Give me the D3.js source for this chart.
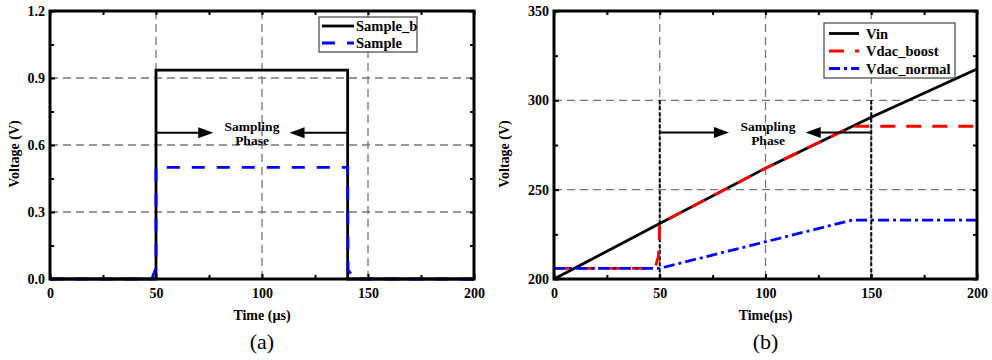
<!DOCTYPE html>
<html>
<head>
<meta charset="utf-8">
<script src="https://cdn.jsdelivr.net/npm/d3@7"></script>
<style>
  body { margin: 0; background: #fff; }
  svg text { font-family: "Liberation Serif", "Times New Roman", serif; }
</style>
</head>
<body>
<svg id="chart" width="992" height="360"></svg>
<script>
// ---- data ----
const timeTicks = [0, 50, 100, 150, 200];
const timeMinor = [25, 75, 125, 175];
const leftVoltTicks = [0, 0.3, 0.6, 0.9, 1.2];
const leftVoltMinor = [0.15, 0.45, 0.75, 1.05];
const rightVoltTicks = [200, 250, 300, 350];
const rightVoltMinor = [225, 275, 325];

// panel (a)
const sampleBTime = [0, 50, 50, 140.4, 140.4, 200];
const sampleBVolt = [0, 0, 0.935, 0.935, 0, 0];
const sampleTime = [0, 48, 50, 50, 140.4, 140.6, 144, 200];
const sampleVolt = [0, 0, 0.05, 0.5, 0.5, 0.04, 0, 0];

// panel (b)
const vinTime = [0, 50, 100, 150, 200];
const vinVolt = [200, 231, 262, 290.5, 317.5];
const boostTime = [0, 47.8, 49.4, 50, 100, 141.2, 200];
const boostVolt = [206, 206, 213, 231, 262, 285.5, 285.5];
const normalTime = [0, 50, 141, 200];
const normalVolt = [206, 206, 233, 233];

const svg = d3.select('#chart');
const zip = (xs, ys) => xs.map((x, i) => [x, ys[i]]);

function panel(cfg) {
  const x = d3.scaleLinear().domain([0, 200]).range([cfg.left, cfg.right]);
  const y = d3.scaleLinear().domain(cfg.yDomain).range([279, 11]);
  const g = svg.append('g');

  // grid
  g.selectAll('.gx').data(cfg.gridX).join('line')
    .attr('x1', d => x(d)).attr('x2', d => x(d))
    .attr('y1', y.range()[0]).attr('y2', y.range()[1])
    .attr('stroke', '#777').attr('stroke-width', 1.3).attr('stroke-dasharray', '8,5');
  g.selectAll('.gy').data(cfg.gridY).join('line')
    .attr('y1', d => y(d)).attr('y2', d => y(d))
    .attr('x1', cfg.left).attr('x2', cfg.right)
    .attr('stroke', '#777').attr('stroke-width', 1.3).attr('stroke-dasharray', '8,5');

  // axes with inward ticks
  const xb = d3.axisBottom(x).tickValues(timeTicks).tickSize(-5).tickPadding(9).tickFormat(d3.format('d'));
  const yl = d3.axisLeft(y).tickValues(cfg.yTicks).tickSize(-5).tickPadding(5).tickFormat(cfg.yFormat);
  const xm = d3.axisBottom(x).tickValues(timeMinor).tickSize(-4).tickFormat('');
  const ym = d3.axisLeft(y).tickValues(cfg.yMinor).tickSize(-4).tickFormat('');
  const axes = [
    [xb, 279], [xm, 279],
    [d3.axisTop(x).tickValues(timeTicks.concat(timeMinor)).tickSize(-4).tickFormat(''), 11]
  ];
  axes.forEach(([a, ty]) => g.append('g').attr('transform', `translate(0,${ty})`).call(a));
  g.append('g').attr('transform', `translate(${cfg.left},0)`).call(yl);
  g.append('g').attr('transform', `translate(${cfg.left},0)`).call(ym);
  g.append('g').attr('transform', `translate(${cfg.right},0)`)
    .call(d3.axisRight(y).tickValues(cfg.yTicks.concat(cfg.yMinor)).tickSize(-4).tickFormat(''));
  g.selectAll('.domain').remove();
  g.selectAll('.tick line').attr('stroke', '#000').attr('stroke-width', 2);
  g.selectAll('.tick text').attr('font-size', 14).attr('font-weight', 'bold')
    .attr('fill', '#000').style('font-family', '"Liberation Serif", serif');

  // extra markers
  if (cfg.markers) cfg.markers(g, x, y);

  // series
  const line = d3.line().x(d => x(d[0])).y(d => y(d[1]));
  cfg.series.forEach(s => {
    g.append('path').datum(zip(s.t, s.v)).attr('d', line)
      .attr('fill', 'none').attr('stroke', s.color).attr('stroke-width', 2.8)
      .attr('stroke-dasharray', s.dash || null);
  });

  // frame
  g.append('rect').attr('x', cfg.left).attr('y', 11)
    .attr('width', cfg.right - cfg.left).attr('height', 268)
    .attr('fill', 'none').attr('stroke', '#000').attr('stroke-width', 3);

  // annotation arrows
  const ay = y(cfg.arrowY);
  const arrow = (x0, x1) => {
    const dir = Math.sign(x1 - x0);
    g.append('line').attr('x1', x(x0)).attr('x2', x(x1) - dir * 12)
      .attr('y1', ay).attr('y2', ay).attr('stroke', '#000').attr('stroke-width', 2);
    const tx = x(x1);
    g.append('path')
      .attr('d', `M${tx},${ay} L${tx - dir * 15},${ay - 5.5} L${tx - dir * 15},${ay + 5.5} Z`)
      .attr('fill', '#000');
  };
  arrow(cfg.arrowL[0], cfg.arrowL[1]);
  arrow(cfg.arrowR[0], cfg.arrowR[1]);
  g.append('text').attr('x', cfg.textX).attr('y', 131).attr('text-anchor', 'middle')
    .attr('font-size', 13.5).attr('font-weight', 'bold').text('Sampling');
  g.append('text').attr('x', cfg.textX).attr('y', 145).attr('text-anchor', 'middle')
    .attr('font-size', 13.5).attr('font-weight', 'bold').text('Phase');

  // legend
  const L = cfg.legend;
  g.append('rect').attr('x', L.x).attr('y', L.y).attr('width', L.w).attr('height', L.h)
    .attr('fill', '#fff').attr('stroke', '#444').attr('stroke-width', 1.2);
  cfg.series.forEach((s, i) => {
    const ry = L.y + L.first + i * L.step;
    g.append('line').attr('x1', L.x + L.lx0).attr('x2', L.x + L.lx1)
      .attr('y1', ry).attr('y2', ry).attr('stroke', s.color).attr('stroke-width', 2.8)
      .attr('stroke-dasharray', s.dash || null);
    g.append('text').attr('x', L.x + L.tx).attr('y', ry + 5)
      .attr('font-size', 14.5).attr('font-weight', 'bold').text(s.name);
  });

  // titles
  const cx = (cfg.left + cfg.right) / 2;
  g.append('text').attr('x', cx).attr('y', 320).attr('text-anchor', 'middle')
    .attr('font-size', 14).attr('font-weight', 'bold').text(cfg.xTitle);
  g.append('text').attr('x', cx).attr('y', 349).attr('text-anchor', 'middle')
    .attr('font-size', 22).text(cfg.label);
  g.append('text').attr('transform', `translate(${cfg.yTitleX},154) rotate(-90)`)
    .attr('text-anchor', 'middle').attr('font-size', 14).attr('font-weight', 'bold').text('Voltage (V)');
}

panel({
  left: 50, right: 474, yDomain: [0, 1.2],
  yTicks: leftVoltTicks, yMinor: leftVoltMinor, yFormat: d3.format('.1f'),
  gridX: [50, 100, 150], gridY: [0.3, 0.6, 0.9],
  series: [
    { name: 'Sample_b', t: sampleBTime, v: sampleBVolt, color: '#000' },
    { name: 'Sample', t: sampleTime, v: sampleVolt, color: '#0000ff', dash: '13,12' }
  ],
  arrowY: 0.655, arrowL: [50, 77], arrowR: [140.4, 113], textX: 252,
  legend: { x: 319, y: 17, w: 98, h: 35, first: 9, step: 17, lx0: 3, lx1: 35, tx: 37 },
  xTitle: 'Time (\u00b5s)', label: '(a)', yTitleX: 19
});

panel({
  left: 554, right: 977, yDomain: [200, 350],
  yTicks: rightVoltTicks, yMinor: rightVoltMinor, yFormat: d3.format('d'),
  gridX: [50, 100, 150], gridY: [250, 300],
  markers: (g, x, y) => {
    [50, 150].forEach(t => {
      g.append('line').attr('x1', x(t)).attr('x2', x(t)).attr('y1', y(300)).attr('y2', y(200))
        .attr('stroke', '#000').attr('stroke-width', 2).attr('stroke-dasharray', '4,2');
    });
  },
  series: [
    { name: 'Vin', t: vinTime, v: vinVolt, color: '#000' },
    { name: 'Vdac_boost', t: boostTime, v: boostVolt, color: '#ff0000', dash: '15,11' },
    { name: 'Vdac_normal', t: normalTime, v: normalVolt, color: '#0000ff', dash: '11,4,3,4' }
  ],
  arrowY: 282, arrowL: [50, 82.7], arrowR: [150, 119], textX: 768,
  legend: { x: 824, y: 23, w: 131, h: 55, first: 10.5, step: 17.5, lx0: 5, lx1: 35, tx: 42 },
  xTitle: 'Time(\u00b5s)', label: '(b)', yTitleX: 509
});
</script>
</body>
</html>
